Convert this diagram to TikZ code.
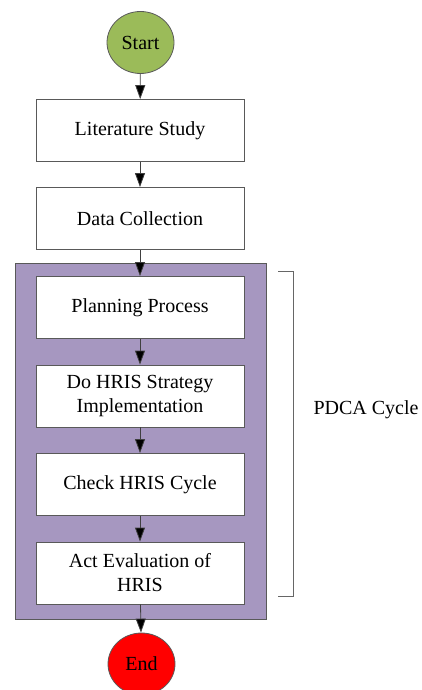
\documentclass[tikz,border=0pt]{standalone}
\usepackage{fontspec}
\setmainfont{Liberation Serif}
\usetikzlibrary{arrows.meta,shapes.geometric}
\definecolor{pdcapurple}{RGB}{166,151,192}
\definecolor{startgreen}{RGB}{155,187,89}
\definecolor{endred}{RGB}{255,0,0}
\begin{document}
\begin{tikzpicture}[x=1pt,y=-1pt,
  font=\fontsize{20}{24}\selectfont,
  stepbox/.style={draw=black!65, fill=white, line width=0.8pt, minimum width=208pt, minimum height=62pt, align=center, inner sep=0pt},
  terminal/.style={ellipse, draw=black!65, line width=0.8pt, minimum width=67pt, minimum height=62pt, inner sep=0pt},
  flow/.style={-{Triangle[length=14pt,width=10pt,fill=black]}, black!75, line width=0.8pt}]
  \useasboundingbox (0,0) rectangle (422,690);
  \fill[pdcapurple] (15,263) rectangle (266,619);
  \draw[black!65, line width=0.8pt] (15,263) rectangle (266,619);
  \node[terminal, fill=startgreen] (start) at (140.5,42.5) {Start};
  \node[stepbox] (lit) at (140,130.5) {Literature Study};
  \node[stepbox] (data) at (140,218.5) {Data Collection};
  \node[stepbox] (plan) at (140,307.5) {Planning Process};
  \node[stepbox] (do) at (140,396) {Do HRIS Strategy\\Implementation};
  \node[stepbox] (check) at (140,484.5) {Check HRIS Cycle};
  \node[stepbox] (act) at (140,573) {Act Evaluation of\\HRIS};
  \node[terminal, fill=endred] (end) at (141.5,664) {End};
  \draw[flow] (start) -- (lit);
  \draw[flow] (lit) -- (data);
  \draw[flow] (data) -- (plan);
  \draw[flow] (plan) -- (do);
  \draw[flow] (do) -- (check);
  \draw[flow] (check) -- (act);
  \draw[flow] (act) -- (end);
  % bracket round the PDCA steps
  \coordinate (btop) at (278,271);
  \coordinate (bbot) at (278,596);
  \draw[black!60, line width=0.8pt] (btop) -- ++(15,0) |- (bbot);
  \node (pdca) at (366,410) {PDCA Cycle};
\end{tikzpicture}
\end{document}
